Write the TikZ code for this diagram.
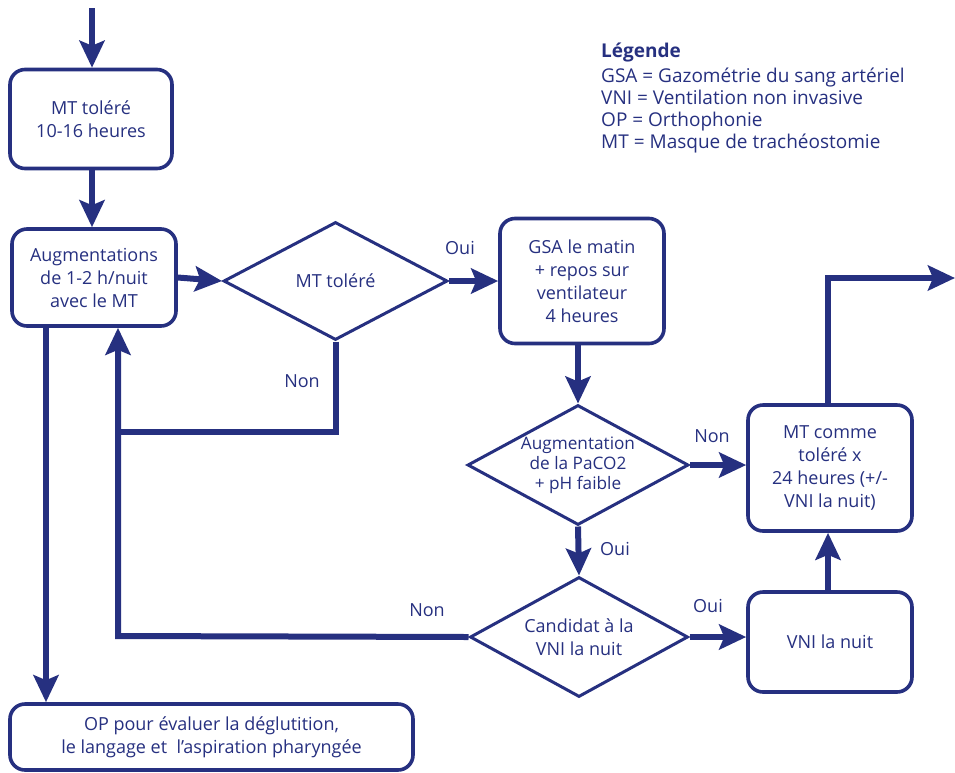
\documentclass[tikz,border=0pt]{standalone}
\usepackage{fontspec}
\setmainfont{Open Sans}
\usetikzlibrary{arrows.meta,shapes.geometric}
\definecolor{navy}{RGB}{38,48,128}
\tikzset{
  x=1pt, y=-1pt,
  every node/.style={text=navy, font=\fontsize{18}{23}\selectfont},
  box/.style={draw=navy, line width=3.6pt, rounded corners=15pt, fill=white,
    align=center, inner sep=0pt},
  dia/.style={draw=navy, line width=3pt, diamond, inner sep=0pt, fill=white},
  flow/.style={draw=navy, line width=6pt},
  arr/.style={flow, -{Stealth[length=27pt,width=25pt,inset=5pt]}},
  lab/.style={font=\fontsize{18}{20}\selectfont}
}
\begin{document}
\begin{tikzpicture}
\useasboundingbox (0,0) rectangle (955,772);

% boxes
\node[box, minimum width=162pt, minimum height=99pt] (b1) at (91,119) {MT toléré\\10-16 heures};
\node[box, minimum width=164pt, minimum height=97pt] (b2) at (94,277.5) {Augmentations\\de 1-2 h/nuit\\avec le MT};
\node[box, minimum width=164pt, minimum height=125pt] (b3) at (582,281) {GSA le matin\\+ repos sur\\ventilateur\\ 4 heures};
\node[box, minimum width=164pt, minimum height=126pt] (b4) at (830,468) {MT comme\\toléré x\\24 heures (+/-\\VNI la nuit)};
\node[box, minimum width=164pt, minimum height=100pt] (b5) at (830,642) {VNI la nuit};
\node[box, minimum width=403pt, minimum height=66pt] (b6) at (211.5,737) {OP pour évaluer la déglutition,\\le langage et \ l’aspiration pharyngée};

% decisions
\node[dia, minimum width=224pt, minimum height=118pt] (d1) at (335.5,281) {};
\node at (d1) {MT toléré};
\node[dia, minimum width=221pt, minimum height=120pt] (d2) at (578,465) {};
\node[align=center, font=\fontsize{17.2}{20}\selectfont] at (d2) {Augmentation\\de la PaCO2\\+ pH faible};
\node[dia, minimum width=218pt, minimum height=120pt] (d3) at (579,637) {};
\node[align=center] at (d3) {Candidat à la\\VNI la nuit};

% legend
\node[anchor=north west, align=left, inner sep=0pt, font=\fontsize{19}{22}\selectfont] (leg) at (601,43)
  {\textbf{Légende}\\[3pt]GSA = Gazométrie du sang artériel\\VNI = Ventilation non invasive\\OP = Orthophonie\\MT = Masque de trachéostomie};

% helper points
\coordinate (top) at (92,8);
\coordinate (j1) at (118,432);
\coordinate (j2) at (118,636);
\coordinate (opx) at (46,0);
\coordinate (out) at (955,278);

% connectors
\draw[arr] (top) -- (b1.north -| top);
\draw[arr] (b1.south -| top) -- (b2.north -| top);
\draw[arr] (b2.east) -- (d1.west);
\draw[arr] (d1.east) -- (b3.west);
\draw[flow] (d1.south) |- (j1);
\draw[arr] (d3.west) -- (j2) -- (b2.south -| j2);
\draw[arr] (b2.south -| opx) -- (b6.north -| opx);
\draw[arr] (b3.south -| d2.north) -- (d2.north);
\draw[arr] (d2.east) -- (b4.west |- d2.east);
\draw[arr] (d2.south) -- (d3.north);
\draw[arr] (d3.east) -- (b5.west |- d3.east);
\draw[arr] (b5.north -| 828,0) -- (b4.south -| 828,0);
\draw[arr] (b4.north -| 828,0) |- (out);

% branch labels
\node[lab] (l1) at (460,248) {Oui};
\node[lab] (l2) at (302,381) {Non};
\node[lab] (l3) at (712,436) {Non};
\node[lab] (l4) at (615,549) {Oui};
\node[lab] (l5) at (708,606) {Oui};
\node[lab] (l6) at (427,610) {Non};
\end{tikzpicture}
\end{document}
